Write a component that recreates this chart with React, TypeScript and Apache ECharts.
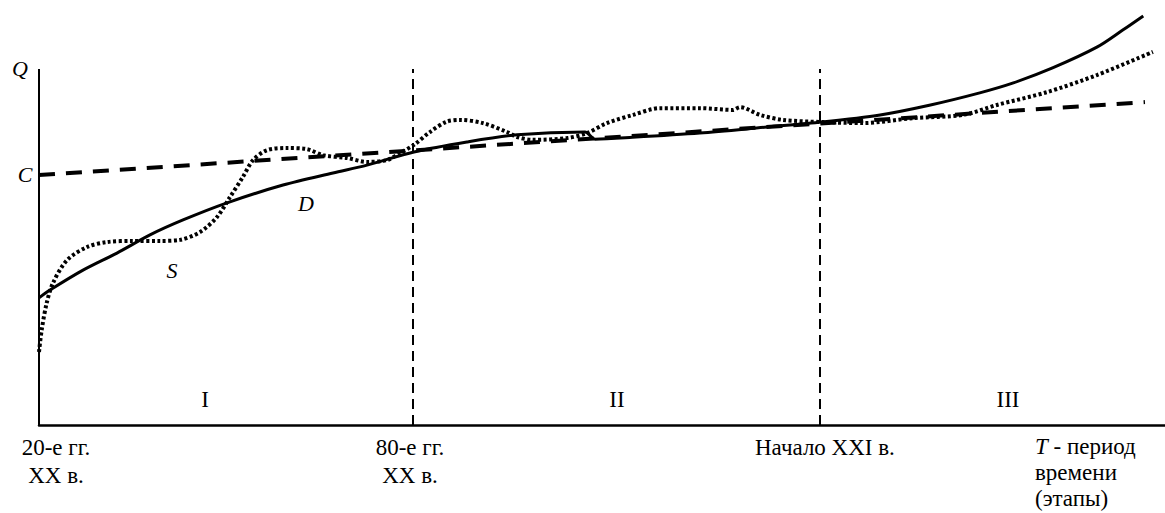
import React, { useEffect, useRef } from "react";
import * as echarts from "echarts";

// x: abstract time scale (0 = 20-е гг. XX в.), y: Q scale (0..100 axis height)
const stageBounds = [33.4, 69.7];
const axisTop = 100;

const curveD: [number, number][] = [
  [0, 35.7], [0.98, 37.9], [3.93, 43.5], [6.96, 48.3], [9.91, 53.4], [12.86, 57.6],
  [16.79, 62.4], [21.79, 67.4], [26.25, 70.8], [29.29, 73.0], [33.48, 76.7],
  [38.21, 79.5], [42.68, 81.5], [48.75, 82.3], [49.64, 80.3], [53.0, 80.8],
  [59.0, 82.0], [65.0, 83.7], [69.9, 85.1], [75.1, 87.1], [79.6, 89.9],
  [84.0, 93.3], [87.0, 96.1], [90.5, 100.3], [94.5, 106.2], [96.8, 111.0], [98.6, 114.9],
];

const curveS: [number, number][] = [
  [0, 20.5], [0.24, 26.7], [0.69, 34.3], [1.25, 39.9], [2.5, 46.3], [4.29, 50.0],
  [6.07, 51.4], [8.39, 51.7], [10.8, 51.7], [12.59, 52.0], [14.38, 54.2], [15.89, 58.4],
  [17.05, 64.0], [18.21, 69.7], [19.11, 74.4], [20.36, 77.2], [22.14, 77.8], [23.93, 77.5],
  [25.36, 75.8], [27.5, 75.0], [29.29, 73.9], [31.07, 74.4], [32.23, 76.4], [33.48, 78.7],
  [34.91, 82.3], [36.4, 85.2], [37.59, 85.7], [39.64, 84.8], [41.79, 82.3], [42.68, 80.9],
  [44.1, 80.1], [47.14, 80.6], [48.93, 82.0], [50.71, 84.8], [53.04, 87.1], [55.45, 89.0],
  [59.02, 89.0], [61.96, 88.5], [62.59, 89.3], [64.38, 87.1], [66.43, 85.7], [69.91, 85.1],
  [73.57, 84.8], [78.04, 86.2], [82.5, 87.1], [85.54, 89.9], [90.0, 93.5], [94.46, 98.3],
  [99.46, 104.8],
];

const lineC: [number, number][] = [
  [0, 70.2],
  [98.75, 90.7],
];

const stageLabels = ["I", "II", "III"];
const periodLabels = ["20-е гг.\nXX в.", "80-е гг.\nXX в.", "Начало XXI в."];
const curveLabels = ["Q", "C", "D", "S"];

const FONT = "'Liberation Serif', 'Times New Roman', Times, serif";

export default function App() {
  const ref = useRef<HTMLDivElement>(null);

  useEffect(() => {
    if (!ref.current) return;
    const chart = echarts.init(ref.current, undefined, { renderer: "svg" });

    const txt = (
      text: string,
      x: number,
      y: number,
      opts: { italic?: boolean; size?: number; align?: string; valign?: string; lh?: number } = {}
    ) => ({
      type: "text",
      silent: true,
      style: {
        text,
        x,
        y,
        fill: "#000",
        font: `${opts.italic ? "italic " : ""}${opts.size ?? 22}px ${FONT}`,
        align: opts.align ?? "center",
        verticalAlign: opts.valign ?? "middle",
        lineHeight: opts.lh ?? 28,
      },
    });

    const black = "#000";

    chart.setOption({
      animation: false,
      backgroundColor: "#fff",
      textStyle: { fontFamily: FONT },
      grid: { left: 39, right: 0, top: 15.6, bottom: 88, containLabel: false },
      xAxis: {
        type: "value",
        min: 0,
        max: 100.54,
        axisLine: { show: true, lineStyle: { color: black, width: 2.5 } },
        axisTick: { show: false },
        axisLabel: { show: false },
        splitLine: { show: false },
      },
      yAxis: {
        type: "value",
        min: 0,
        max: 115,
        axisLine: { show: false },
        axisTick: { show: false },
        axisLabel: { show: false },
        splitLine: { show: false },
      },
      series: [
        {
          type: "line",
          name: "C",
          data: lineC,
          symbol: "none",
          clip: false,
          lineStyle: { color: black, width: 4, type: [16, 11], cap: "butt" },
          markLine: {
            silent: true,
            symbol: ["none", "none"],
            label: { show: false },
            data: [
              [
                { coord: [0, 0], lineStyle: { color: black, width: 2, type: "solid" } },
                { coord: [0, axisTop] },
              ],
              ...stageBounds.map((b) => [
                { coord: [b, 0], lineStyle: { color: black, width: 2, type: [10, 6] } },
                { coord: [b, axisTop] },
              ]),
            ],
          },
        },
        {
          type: "line",
          name: "D",
          data: curveD,
          symbol: "none",
          smooth: 0.3,
          clip: false,
          lineStyle: { color: black, width: 3 },
        },
        {
          type: "line",
          name: "S",
          data: curveS,
          symbol: "none",
          smooth: 0.3,
          clip: false,
          lineStyle: { color: black, width: 4, type: [3, 2.5], cap: "butt" },
        },
      ],
      graphic: [
        txt(curveLabels[0], 20, 68, { italic: true }),
        txt(curveLabels[1], 25, 174, { italic: true }),
        txt(curveLabels[2], 306, 203, { italic: true }),
        txt(curveLabels[3], 172, 270, { italic: true }),
        txt(stageLabels[0], 205, 399, { size: 23 }),
        txt(stageLabels[1], 617, 399, { size: 23 }),
        txt(stageLabels[2], 1008, 399, { size: 23 }),
        txt(periodLabels[0], 56, 433, { valign: "top", lh: 28, size: 23 }),
        txt(periodLabels[1], 410, 433, { valign: "top", lh: 28, size: 23 }),
        txt(periodLabels[2], 755, 433, { valign: "top", align: "left", lh: 28, size: 23 }),
        {
          type: "text",
          silent: true,
          style: {
            text: "{i|T} - период\nвремени\n(этапы)",
            x: 1035,
            y: 433,
            fill: "#000",
            font: `23px ${FONT}`,
            align: "left",
            verticalAlign: "top",
            lineHeight: 26,
            rich: {
              i: { font: `italic 23px ${FONT}`, fill: "#000", lineHeight: 26 },
            },
          },
        },
      ],
    });

    return () => chart.dispose();
  }, []);

  return (
    <div
      ref={ref}
      style={{ position: "absolute", left: 0, top: 0, width: 1165, height: 513, background: "#fff" }}
    />
  );
}
